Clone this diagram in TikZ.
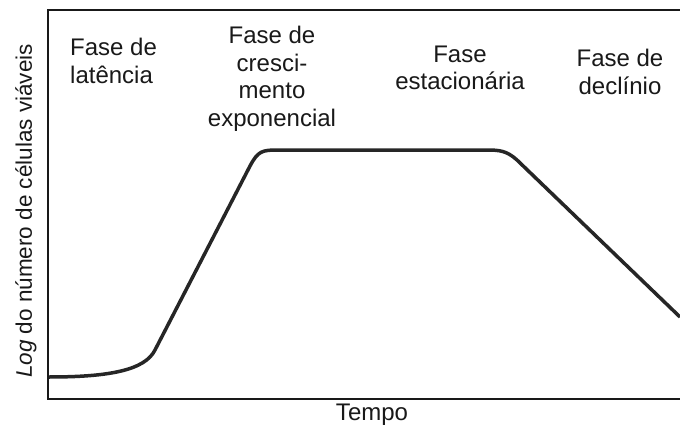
\documentclass[tikz,border=0pt]{standalone}
\usepackage{fontspec}
\setmainfont{Liberation Sans}
\begin{document}
\begin{tikzpicture}[x=1pt,y=-1pt,
  lbl/.style={font=\fontsize{24}{27.5}\selectfont, align=center, inner sep=0pt, text=black!90},
  axis/.style={line width=2pt, black!90},
  curve/.style={line width=3.5pt, black!85, line join=round}]
\path[use as bounding box, fill=white] (0,0) rectangle (680,428);
\draw[axis] (680,10) -- (48,10) -- (48,399) -- (680,399);
\draw[curve] (49,377) .. controls (110,377) and (145,370) .. (155,350)
  -- (250,166) .. controls (258,151) and (262,150) .. (278,150)
  -- (487,150) .. controls (500,150) and (507,151) .. (517,160)
  -- (680,317);
\node[lbl, align=left, anchor=west] (lag) at (70,61) {Fase de\\latência};
\node[lbl] (exp) at (272,79) {Fase de\\cresci-\\mento\\exponencial};
\node[lbl] (sta) at (460,68) {Fase\\estacionária};
\node[lbl] (dec) at (620,72) {Fase de\\declínio};
\node[lbl] (xl) at (372,415) {Tempo};
\node[lbl, rotate=90, font=\fontsize{22.5}{27}\selectfont] (yl) at (26,211) {\textit{Log} do número de células viáveis};
\end{tikzpicture}
\end{document}
